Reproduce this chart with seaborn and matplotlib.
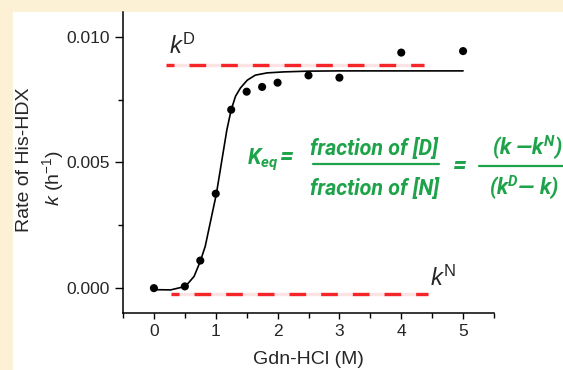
import matplotlib
matplotlib.use("Agg")
import matplotlib.pyplot as plt
from matplotlib.lines import Line2D
from matplotlib.patches import Rectangle
from matplotlib.ticker import MultipleLocator
import seaborn as sns

# measured rates
gdn = [0.0, 0.5, 0.75, 1.0, 1.25, 1.5, 1.75, 2.0, 2.5, 3.0, 4.0, 5.0]
rate = [-0.00002, 0.00005, 0.00108, 0.00375, 0.0071, 0.00782, 0.00801,
        0.00818, 0.00847, 0.00838, 0.00938, 0.00944]

# fitted curve
fit_x = [0.0, 0.27, 0.51, 0.65, 0.75, 0.83, 0.91, 1.01, 1.10, 1.18, 1.25,
         1.32, 1.40, 1.51, 1.64, 1.83, 2.10, 2.5, 3.0, 4.0, 5.0]
fit_y = [-0.00008, -0.00009, 0.00005, 0.00045, 0.00105, 0.00165, 0.00258,
         0.00374, 0.0051, 0.0063, 0.0071, 0.00764, 0.00797, 0.00828,
         0.00848, 0.00857, 0.00861, 0.00864, 0.00865, 0.00865, 0.00865]

# baselines
kD_x = [0.2, 4.37]
kD_y = [0.00887, 0.00887]
kN_x = [0.27, 4.43]
kN_y = [-0.00027, -0.00027]

#%%
sns.set_style("ticks")
plt.rcParams["font.family"] = ["Liberation Sans", "DejaVu Sans"]
plt.rcParams["mathtext.fontset"] = "custom"
plt.rcParams["mathtext.rm"] = "Liberation Sans"
plt.rcParams["mathtext.it"] = "Liberation Sans:italic"
plt.rcParams["mathtext.bf"] = "Roboto:bold:italic"

W, H = 563, 370
def px(x, y):
    return x / W, 1 - y / H

fig = plt.figure(figsize=(5.63, 3.70), dpi=100, facecolor="#fdf1d5")
fig.add_artist(Rectangle(px(13, 370), 1, (H - 12) / H,
                         transform=fig.transFigure, color="white", zorder=0))
ax = fig.add_axes([123 / W, 1 - 312.7 / H, 371 / W, 300.7 / H])
ax.set_facecolor("none")

red = "#f5262a"
for xs, ys in [(kD_x, kD_y), (kN_x, kN_y)]:
    ax.plot(xs, ys, color="#fde3e3", lw=2.4, solid_capstyle="butt")
    ax.plot(xs, ys, color=red, lw=2.4, ls=(2.6, (5.0, 4.5)), dash_capstyle="butt")

sns.lineplot(x=fit_x, y=fit_y, color="black", lw=1.2, ax=ax)
sns.scatterplot(x=gdn, y=rate, color="black", s=34, edgecolor="none", ax=ax, zorder=5)

ax.set_xlim(-0.5, 5.5)
ax.set_ylim(-0.001, 0.011)
ax.set_xticks([0, 1, 2, 3, 4, 5])
ax.set_yticks([0.0, 0.005, 0.010])
ax.set_yticklabels(["0.000", "0.005", "0.010"])
ax.xaxis.set_minor_locator(MultipleLocator(0.5))
ax.yaxis.set_minor_locator(MultipleLocator(0.0025))
ax.tick_params(which="major", direction="out", labelsize=12.5, width=1, color="black")
ax.tick_params(axis="y", which="major", length=6)
ax.tick_params(axis="x", which="major", length=4.5)
ax.tick_params(which="minor", direction="out", length=3.5, width=1, color="black")
for s in ["top", "right"]:
    ax.spines[s].set_visible(False)
for s in ["left", "bottom"]:
    ax.spines[s].set_linewidth(1.1)
    ax.spines[s].set_color("black")

ax.text(0.24, 0.00934, r"$k^{\mathrm{D}}$", fontsize=17, ha="left", va="baseline")
ax.text(4.46, 0.00005, r"$k^{\mathrm{N}}$", fontsize=17, ha="left", va="baseline")

fig.text(*px(25, 160), "Rate of His-HDX", rotation=90, fontsize=14,
         ha="center", va="center")
fig.text(*px(53, 178), r"$k$ (h$^{-1}$)", rotation=90, fontsize=14,
         ha="center", va="center")
fig.text(*px(308, 360), "Gdn-HCl (M)", fontsize=14, ha="center", va="center")

# Keq equation
green = "#1ea34b"
eq = dict(color=green, fontsize=15.5, family="Roboto", fontweight="bold",
          fontstyle="italic")
fig.text(*px(247, 164), r"$\mathbf{K_{eq}}$", ha="left", va="baseline", **eq)
fig.text(*px(287, 157), "=", ha="center", va="center", **{**eq, "fontsize": 18})
fig.text(*px(374, 149), "fraction of [D]", ha="center", va="center", **eq)
fig.text(*px(374, 189), "fraction of [N]", ha="center", va="center", **eq)
fig.text(*px(460, 166), "=", ha="center", va="center", **{**eq, "fontsize": 18})
fig.text(*px(492, 148), r"(k —$\mathbf{k^N}$)", ha="left", va="center", **eq)
fig.text(*px(489, 188), r"($\mathbf{k^D}$— k)", ha="left", va="center", **eq)
for x0, x1, y in [(313, 439, 164.3), (479, 575, 166.5)]:
    fig.add_artist(Line2D([x0 / W, x1 / W], [1 - y / H] * 2,
                          transform=fig.transFigure, color=green, lw=1.6))

fig.savefig("out.png", dpi=100, facecolor=fig.get_facecolor())
